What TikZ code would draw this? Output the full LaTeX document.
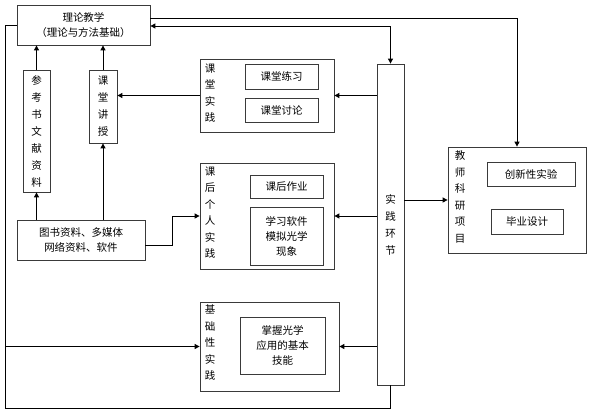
\documentclass[tikz,border=0pt]{standalone}
\usepackage{fontspec}
\setmainfont{Noto Sans CJK SC}
\usetikzlibrary{positioning, arrows.meta, calc}
\definecolor{BoxGray}{HTML}{3a3a3a}

\begin{document}
\begin{tikzpicture}[
  x=1pt, y=-1pt,
  box/.style={draw=BoxGray, line width=0.8pt, inner sep=0pt, align=center,
              font=\fontsize{10.5}{15}\selectfont},
  tall/.style={box, font=\fontsize{10.5}{17}\selectfont},
  title/.style={anchor=north west, inner sep=0pt, align=center,
                font=\fontsize{10.5}{16.5}\selectfont},
  arr/.style={-{Triangle[length=5pt, width=5pt]}, line width=1pt},
  link/.style={line width=1pt}
]
  \useasboundingbox (0,0) rectangle (590,416);

  % Theory and its sources
  \node[box, minimum width=133pt, minimum height=40pt] (theory) at (83.5,25)
        {理论教学\\（理论与方法基础）};
  \node[tall, minimum width=27pt, minimum height=122pt] (refs) at (36.5,131)
        {参\\考\\书\\文\\献\\资\\料};
  \node[tall, minimum width=28pt, minimum height=73pt] (lecture) at (103,106.5)
        {课\\堂\\讲\\授};
  \node[box, minimum width=128pt, minimum height=40pt] (media) at (81,240)
        {图书资料、多媒体\\网络资料、软件};

  % Classroom practice
  \node[box, minimum width=134pt, minimum height=73pt] (classprac) at (267,95.5) {};
  \node[title] at ($(classprac.north west)+(5,5)$) {课\\堂\\实\\践};
  \node[box, minimum width=73pt, minimum height=25pt] (exercise) at (281.5,76.5) {课堂练习};
  \node[box, minimum width=73pt, minimum height=24pt] (discuss) at (281.5,110) {课堂讨论};

  % After-class practice
  \node[box, minimum width=134pt, minimum height=106pt] (afterprac) at (267,216) {};
  \node[title] at ($(afterprac.north west)+(5,4)$) {课\\后\\个\\人\\实\\践};
  \node[box, minimum width=73pt, minimum height=23pt] (homework) at (286.5,186.5) {课后作业};
  \node[box, minimum width=73pt, minimum height=58pt] (software) at (286.5,236)
        {学习软件\\模拟光学\\现象};

  % Basic practice
  \node[box, minimum width=139pt, minimum height=89pt] (basicprac) at (269.5,346.5) {};
  \node[title] at ($(basicprac.north west)+(5,3)$) {基\\础\\性\\实\\践};
  \node[box, minimum width=85pt, minimum height=57pt] (skills) at (282.5,345.5)
        {掌握光学\\应用的基本\\技能};

  % Practice hub
  \node[tall, minimum width=27pt, minimum height=321pt] (practice) at (390.5,224.5)
        {实\\践\\环\\节};

  % Teacher research
  \node[box, minimum width=138pt, minimum height=106pt] (research) at (517,200) {};
  \node[title] at ($(research.north west)+(7,4)$) {教\\师\\科\\研\\项\\目};
  \node[box, minimum width=88pt, minimum height=24pt] (innov) at (531,174) {创新性实验};
  \node[box, minimum width=72pt, minimum height=25pt] (thesis) at (527,221.5) {毕业设计};

  % Feedback loop
  \coordinate (loopTL) at (5,25);
  \coordinate (loopBL) at (5,408);
  \coordinate (loopBR) at (practice.south |- loopBL);
  \draw[link] (theory.west) -- (loopTL) -- (loopBL) -- (loopBR) -- (practice.south);
  \draw[arr] (5,346.5) -- (basicprac.west);

  % Theory links
  \draw[arr] ($(theory.east)+(0,-7)$) -| (research.north);
  \draw[{Triangle[length=5pt, width=5pt]}-{Triangle[length=5pt, width=5pt]}, line width=1pt]
        ($(theory.east)+(0,1)$) -| (practice.north);
  \draw[arr] (refs.north) -- (refs.north |- theory.south);
  \draw[arr] (lecture.north) -- (lecture.north |- theory.south);

  % Sources
  \draw[arr] (refs.south |- media.north) -- (refs.south);
  \draw[arr] (lecture.south |- media.north) -- (lecture.south);
  \draw[arr] ($(media.east)+(0,5)$) -| (172,216) -- (afterprac.west);

  % Practice hub outputs
  \draw[arr] (classprac.west) -- (lecture.east |- classprac.west);
  \draw[arr] (practice.west |- classprac.east) -- (classprac.east);
  \draw[arr] (practice.west |- afterprac.east) -- (afterprac.east);
  \draw[arr] (practice.west |- basicprac.east) -- (basicprac.east);
  \draw[arr] (practice.east |- research.west) -- (research.west);
\end{tikzpicture}
\end{document}
